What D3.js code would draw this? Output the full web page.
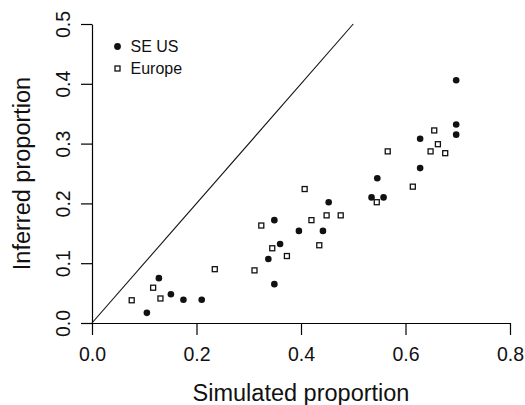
<!DOCTYPE html>
<html>
<head>
<meta charset="utf-8">
<script src="https://cdn.jsdelivr.net/npm/d3@7"></script>
<style>
  body { margin: 0; background: #fff; }
  svg { display: block; font-family: "Liberation Sans", Arial, sans-serif; }
</style>
</head>
<body>
<div id="chart"></div>
<script>
// values
const seusX = [0.105, 0.128, 0.151, 0.175, 0.210, 0.3375, 0.349, 0.349, 0.360, 0.396,
               0.442, 0.453, 0.535, 0.546, 0.558, 0.628, 0.628, 0.697, 0.697, 0.697];
const seusY = [0.017, 0.075, 0.048, 0.039, 0.039, 0.107, 0.065, 0.172, 0.132, 0.154,
               0.154, 0.202, 0.210, 0.242, 0.210, 0.259, 0.308, 0.315, 0.332, 0.406];
const europeX = [0.076, 0.117, 0.131, 0.235, 0.311, 0.324, 0.345, 0.373, 0.407, 0.420,
                 0.435, 0.449, 0.476, 0.545, 0.566, 0.614, 0.648, 0.655, 0.662, 0.676];
const europeY = [0.038, 0.059, 0.041, 0.090, 0.088, 0.163, 0.125, 0.112, 0.224, 0.172,
                 0.130, 0.180, 0.180, 0.202, 0.287, 0.228, 0.287, 0.322, 0.299, 0.284];
const xTicks = [0, 0.2, 0.4, 0.6, 0.8];
const yTicks = [0, 0.1, 0.2, 0.3, 0.4, 0.5];
const legendLabels = ["SE US", "Europe"];

const width = 525, height = 405;
const margin = {top: 24, right: 15, bottom: 82, left: 92};

const svg = d3.select("#chart")
  .append("svg")
  .attr("width", width)
  .attr("height", height);

const x = d3.scaleLinear().domain([0, 0.8]).range([margin.left, 510]);
const y = d3.scaleLinear().domain([0, 0.5]).range([323, margin.top]);

// x axis
const xAxisG = svg.append("g")
  .attr("transform", `translate(0, ${y(0)})`)
  .call(d3.axisBottom(x).tickValues(xTicks).tickFormat(d3.format(".1f"))
    .tickSize(12).tickSizeOuter(0).tickPadding(6));
xAxisG.select(".domain").attr("stroke-width", 1.2);
xAxisG.selectAll(".tick line").attr("stroke-width", 1.2);
xAxisG.selectAll(".tick text")
  .attr("font-size", 19.5).attr("fill", "#111")
  .attr("y", 38).attr("dy", 0);

// y axis, labels rotated like R
const yAxisG = svg.append("g")
  .attr("transform", `translate(${x(0)}, 0)`)
  .call(d3.axisLeft(y).tickValues(yTicks).tickFormat(d3.format(".1f"))
    .tickSize(11).tickSizeOuter(0));
yAxisG.select(".domain").attr("stroke-width", 1.2);
yAxisG.selectAll(".tick line").attr("stroke-width", 1.2);
yAxisG.selectAll(".tick text")
  .attr("font-size", 19.5).attr("fill", "#111")
  .attr("transform", "rotate(-90)")
  .attr("x", 0).attr("y", -22).attr("dy", 0)
  .attr("text-anchor", "middle");

// axis titles
svg.append("text")
  .attr("x", (x(0) + x(0.8)) / 2).attr("y", 401)
  .attr("text-anchor", "middle")
  .attr("font-size", 23.5).attr("fill", "#111")
  .text("Simulated proportion");

svg.append("text")
  .attr("transform", `translate(30, ${(y(0) + y(0.5)) / 2}) rotate(-90)`)
  .attr("text-anchor", "middle")
  .attr("font-size", 23.5).attr("fill", "#111")
  .text("Inferred proportion");

// 1:1 line
svg.append("line")
  .attr("x1", x(0)).attr("y1", y(0))
  .attr("x2", x(0.5)).attr("y2", y(0.5))
  .attr("stroke", "#111").attr("stroke-width", 1.1);

// points
const seus = seusX.map((v, i) => ({x: v, y: seusY[i]}));
const europe = europeX.map((v, i) => ({x: v, y: europeY[i]}));

const sq = 5;
svg.append("g").selectAll("rect")
  .data(europe)
  .join("rect")
    .attr("x", d => x(d.x) - sq / 2)
    .attr("y", d => y(d.y) - sq / 2)
    .attr("width", sq).attr("height", sq)
    .attr("fill", "white")
    .attr("stroke", "#111")
    .attr("stroke-width", 1.3);

svg.append("g").selectAll("circle")
  .data(seus)
  .join("circle")
    .attr("cx", d => x(d.x))
    .attr("cy", d => y(d.y))
    .attr("r", 3.3)
    .attr("fill", "#111");

// legend
const legend = svg.append("g");
legend.append("circle")
  .attr("cx", 117.5).attr("cy", 46.5).attr("r", 3.4).attr("fill", "#111");
legend.append("rect")
  .attr("x", 117.5 - sq / 2).attr("y", 68.5 - sq / 2)
  .attr("width", sq).attr("height", sq)
  .attr("fill", "white").attr("stroke", "#111").attr("stroke-width", 1.3);
legend.selectAll("text")
  .data(legendLabels)
  .join("text")
    .attr("x", 130.5)
    .attr("y", (d, i) => 52 + i * 22)
    .attr("font-size", 16).attr("fill", "#111")
    .text(d => d);
</script>
</body>
</html>
